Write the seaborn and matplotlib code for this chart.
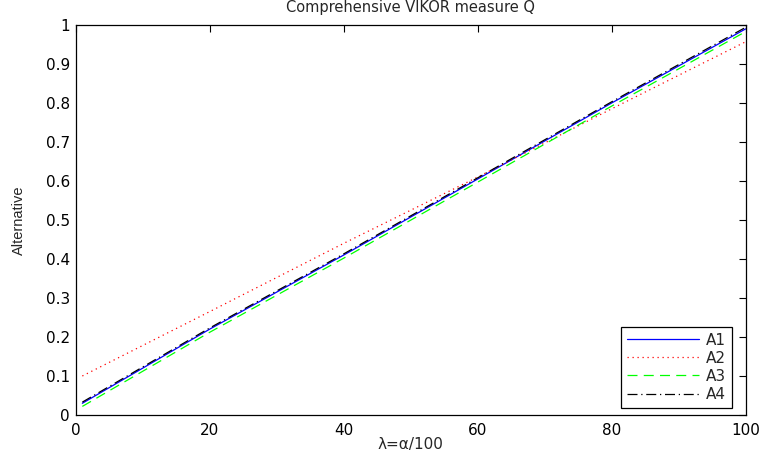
import pandas as pd
import numpy as np
import matplotlib
matplotlib.use('Agg')
import matplotlib.pyplot as plt
import seaborn as sns

# values at a few lambda positions
lam = [1, 20, 40, 60, 80, 100]
A1 = [0.030, 0.220, 0.410, 0.605, 0.800, 0.990]
A2 = [0.100, 0.265, 0.440, 0.610, 0.785, 0.957]
A3 = [0.022, 0.212, 0.402, 0.597, 0.792, 0.983]
A4 = [0.033, 0.223, 0.413, 0.608, 0.803, 0.994]
names = ['A1', 'A2', 'A3', 'A4']

sns.set_style('white')
plt.rcParams['font.family'] = ['DejaVu Sans']

df = pd.concat([pd.DataFrame({'lam': lam, 'Q': v, 'alt': n})
                for n, v in zip(names, [A1, A2, A3, A4])], ignore_index=True)

palette = {'A1': '#0000ff', 'A2': '#ff0000', 'A3': '#00ff00', 'A4': '#000000'}
dashes = {'A1': '', 'A2': (1, 3), 'A3': (8, 5), 'A4': (8, 3, 1, 3)}

fig = plt.figure(figsize=(7.64, 4.61), dpi=100)
ax = fig.add_axes([0.099, 0.0998, 0.877, 0.846])
sns.lineplot(data=df, x='lam', y='Q', hue='alt', style='alt',
             palette=palette, dashes=dashes, linewidth=0.9, ax=ax)

ax.set_xlim(0, 100)
ax.set_ylim(0, 1)
ax.set_xticks(np.arange(0, 101, 20))
ax.set_yticks(np.arange(0, 1.01, 0.1))
ax.set_yticklabels(['0', '0.1', '0.2', '0.3', '0.4', '0.5', '0.6', '0.7', '0.8', '0.9', '1'])
ax.tick_params(direction='in', length=5, width=0.8, top=True, right=True,
               labelsize=11, colors='black')
ax.tick_params(axis='x', pad=6)
ax.tick_params(axis='y', pad=4)
for s in ax.spines.values():
    s.set_color('black')
    s.set_linewidth(0.9)
ax.set_title('Comprehensive VIKOR measure Q', fontsize=10.5, pad=9)
ax.set_xlabel('λ=α/100', fontsize=11)
ax.xaxis.set_label_coords(0.5, -0.057)
ax.set_ylabel('Alternative', fontsize=10.5, family='Liberation Sans')
ax.yaxis.set_label_coords(-0.074, 0.5)

leg = ax.legend(loc='lower right', bbox_to_anchor=(0.9796, 0.018), borderaxespad=0,
                fontsize=11, fancybox=False, framealpha=1, edgecolor='black',
                handlelength=4.7, handletextpad=0.45, labelspacing=0.2,
                borderpad=0.4)
leg.get_frame().set_linewidth(0.9)
for h in leg.get_lines():
    h.set_linewidth(0.9)

fig.savefig('out.png', dpi=100)
